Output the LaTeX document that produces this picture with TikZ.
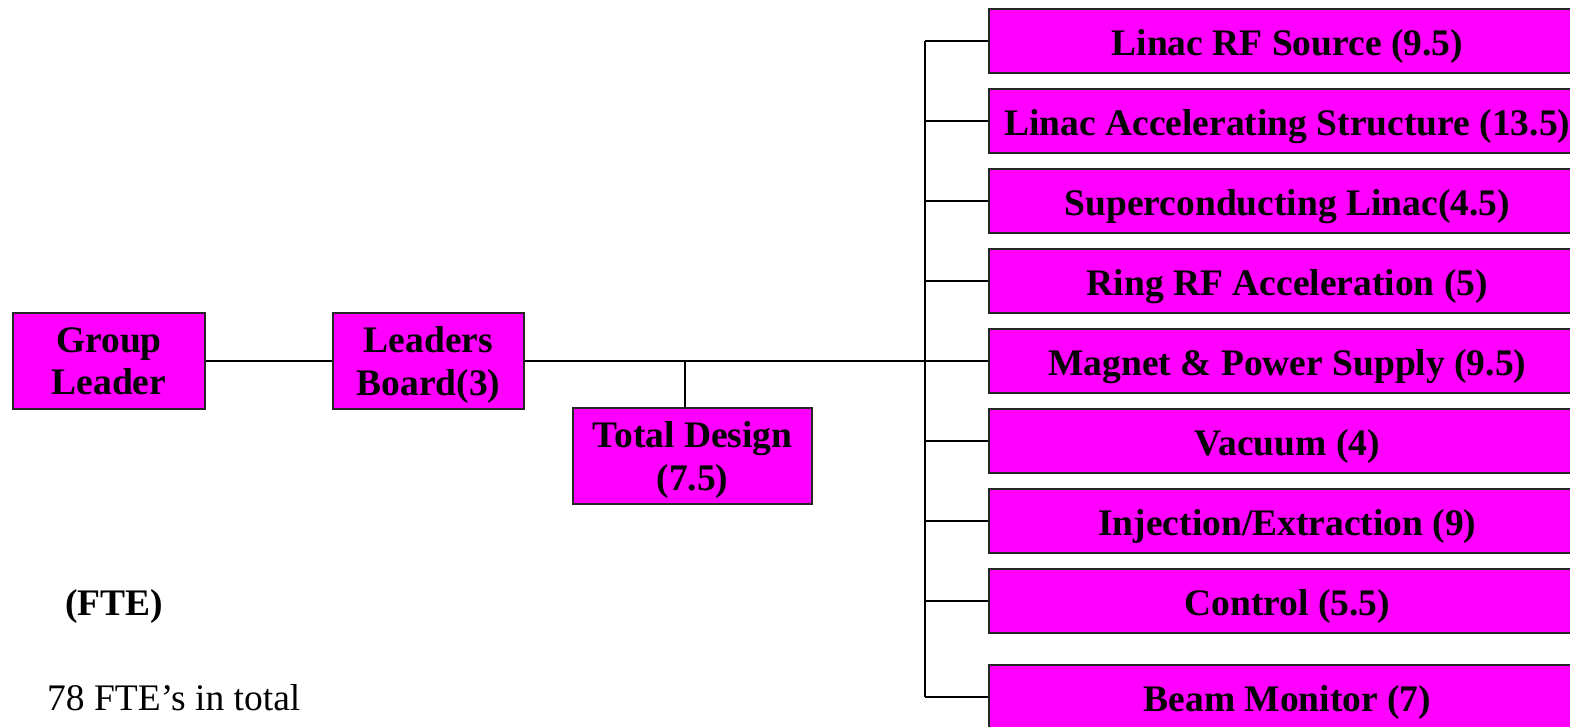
\documentclass[tikz,border=0pt]{standalone}
\usepackage{fontspec}
\setmainfont{Liberation Serif}
\definecolor{mag}{HTML}{FF00FF}
\begin{document}
\begin{tikzpicture}[x=1pt,y=-1pt,
  box/.style={draw=black!85,line width=1.6pt,fill=mag,inner sep=0pt,align=center,
    font=\bfseries\fontsize{37.5}{42.5}\selectfont},
  lbox/.style={box,minimum height=96pt,text depth=0pt},
  rbox/.style={box,minimum width=597pt,minimum height=64pt,anchor=west,text height=36pt,text depth=8pt},
  conn/.style={draw=black,line width=1.6pt}]
\useasboundingbox (0,0) rectangle (1570,726);
\clip (0,0) rectangle (1570,726);
\node[lbox,minimum width=192pt] (gl) at (109,361) {Group\\Leader};
\node[lbox,minimum width=191pt] (lb) at (428.5,361) {Leaders\\Board(3)};
\node[lbox,minimum width=239pt] (td) at (692.5,456) {Total Design\\(7.5)};
\node[rbox] (b1) at (988,41) {Linac RF Source (9.5)};
\node[rbox] (b2) at (988,121) {Linac Accelerating Structure (13.5)};
\node[rbox] (b3) at (988,201) {Superconducting Linac(4.5)};
\node[rbox] (b4) at (988,281) {Ring RF Acceleration (5)};
\node[rbox] (b5) at (988,361) {Magnet \& Power Supply (9.5)};
\node[rbox] (b6) at (988,441) {Vacuum (4)};
\node[rbox] (b7) at (988,521) {Injection/Extraction (9)};
\node[rbox] (b8) at (988,601) {Control (5.5)};
\node[rbox] (b9) at (988,697) {Beam Monitor (7)};
\node[font=\bfseries\fontsize{37.5}{43}\selectfont,anchor=west,inner sep=0pt] (fte) at (65,606) {(FTE)};
\node[font=\fontsize{37.5}{43}\selectfont,anchor=west,inner sep=0pt] (tot) at (47,698) {78 FTE’s in total};
\coordinate (bt) at (925,41);
\coordinate (bb) at (925,697);
\coordinate (bm) at (925,361);
\coordinate (tdj) at (685,361);
\draw[conn] (gl.east) -- (lb.west);
\draw[conn] (lb.east) -- (bm);
\draw[conn] (bt) -- (bb);
\draw[conn] (tdj) -- (tdj |- td.north);
\foreach \b in {b1,b2,b3,b4,b5,b6,b7,b8,b9}{
  \draw[conn] (\b.west -| bm) -- (\b.west);
}
\end{tikzpicture}
\end{document}
